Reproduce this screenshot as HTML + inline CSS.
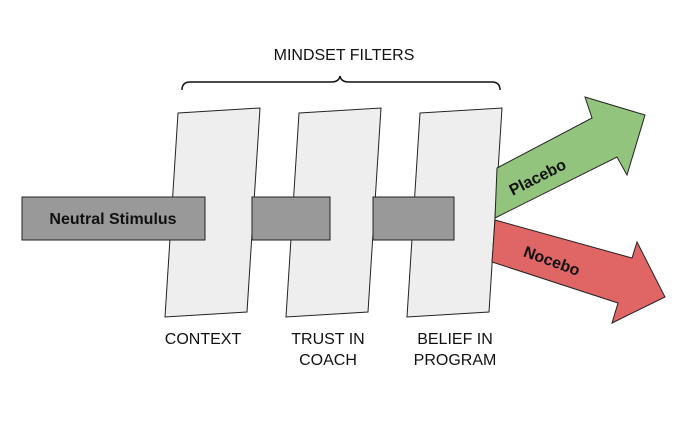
<!DOCTYPE html>
<html><head><style>body{margin:0;background:#fff}svg{display:block}</style></head><body>
<svg width="699" height="432" viewBox="0 0 699 432" xmlns="http://www.w3.org/2000/svg" font-family="Liberation Sans, sans-serif">
<text x="344" y="60" font-size="16" text-anchor="middle" fill="#111">MINDSET FILTERS</text>
<path d="M182,90 Q182,82 190,82 L331,82 Q339,82 340,76 Q341,82 349,82 L492,82 Q500,82 500,90" fill="none" stroke="#111" stroke-width="1.5"/>
<g fill="#eeeeee" stroke="#222" stroke-width="1">
<polygon points="178,113 260,108 247,312 165,317"/>
<polygon points="299,113 381,108 368,312 286,317"/>
<polygon points="420,113 502,108 489,312 407,317"/>
</g>
<g fill="#999" stroke="#222" stroke-width="1">
<rect x="22" y="197" width="183" height="43"/>
<rect x="252" y="197" width="78" height="43"/>
<rect x="373" y="197" width="81" height="43"/>
</g>
<text x="113" y="224" font-size="16" font-weight="bold" text-anchor="middle" fill="#111">Neutral Stimulus</text>
<polygon points="497,168 592,118 585,97 645,115 627,175 617,157 495,218" fill="#93c47d" stroke="#222" stroke-width="1"/>
<polygon points="495,220 632,258 637,242 665,297 612,323 618,303 492,262" fill="#e06666" stroke="#222" stroke-width="1"/>
<text x="0" y="0" font-size="16" font-weight="bold" text-anchor="middle" fill="#111" transform="translate(540,182) rotate(-27)">Placebo</text>
<text x="0" y="0" font-size="16" font-weight="bold" text-anchor="middle" fill="#111" transform="translate(550,266) rotate(20)">Nocebo</text>
<g font-size="16" fill="#111" text-anchor="middle">
<text x="203" y="344">CONTEXT</text>
<text x="328" y="344">TRUST IN</text>
<text x="328" y="365">COACH</text>
<text x="455" y="344">BELIEF IN</text>
<text x="455" y="365">PROGRAM</text>
</g>
</svg>
</body></html>
